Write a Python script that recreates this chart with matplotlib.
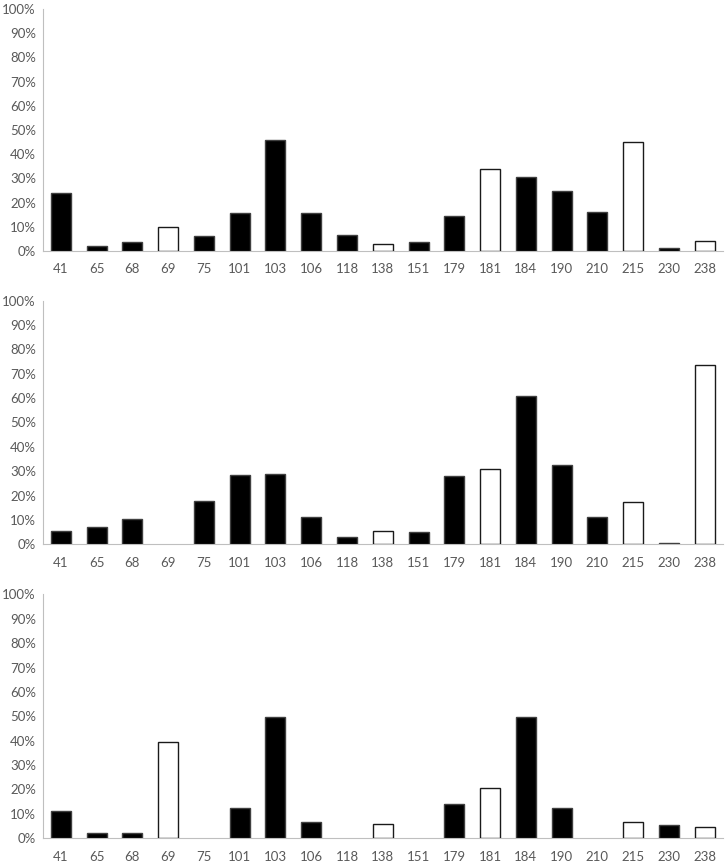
"""
Allele frequency bar panels (three populations), Excel-style look.
"""

import matplotlib.pyplot as plt
import numpy as np
from matplotlib.ticker import PercentFormatter

plt.rcParams.update(
    {
        "font.family": ["Lato", "DejaVu Sans"],
        "font.size": 9.5,
    }
)

# ── Data ───────────────────────────────────────────────────────────────────

categories = ["41", "65", "68", "69", "75", "101", "103", "106", "118", "138",
              "151", "179", "181", "184", "190", "210", "215", "230", "238"]

# categories drawn as open (white) bars
open_cats = ["69", "138", "181", "215", "238"]

panel_top = [23.9, 1.9, 3.6, 10.0, 6.0, 15.7, 45.8, 15.7, 6.6, 2.9,
             3.9, 14.6, 33.7, 30.4, 24.6, 16.2, 45.1, 1.2, 4.0]
panel_mid = [5.3, 7.3, 10.5, 0.0, 17.9, 28.3, 28.9, 11.1, 2.9, 5.5,
             5.2, 28.0, 31.1, 60.9, 32.7, 11.1, 17.2, 0.5, 73.6]
panel_bot = [11.2, 1.9, 2.2, 39.5, 0.0, 12.2, 49.6, 6.7, 0.0, 5.6,
             0.0, 13.8, 20.4, 49.6, 12.2, 0.0, 6.4, 5.2, 4.5]

# ── Plot ───────────────────────────────────────────────────────────────────

GRID_GRAY = "#bfbfbf"
TEXT_GRAY = "#595959"

fig = plt.figure(figsize=(7.27, 8.64), dpi=100)

rects = [
    [0.059, 0.7095, 0.935, 0.280],
    [0.059, 0.370, 0.935, 0.282],
    [0.059, 0.030, 0.935, 0.282],
]

x = np.arange(len(categories))
is_open = [c in open_cats for c in categories]

for rect, values in zip(rects, [panel_top, panel_mid, panel_bot]):
    ax = fig.add_axes(rect)
    # skip empty bars so no stray edge line sits on the baseline
    for xi, v, o in zip(x, values, is_open):
        if v <= 0:
            continue
        ax.bar(xi, v, width=0.56,
               color="white" if o else "black",
               edgecolor="#1a1a1a" if o else "#404040",
               linewidth=1.0, zorder=3)

    ax.set_xlim(-0.5, len(categories) - 0.5)
    ax.set_ylim(0, 100)
    ax.set_yticks(np.arange(0, 101, 10))
    ax.yaxis.set_major_formatter(PercentFormatter(decimals=0))
    ax.set_xticks(x)
    ax.set_xticklabels(categories)

    for side in ["top", "right"]:
        ax.spines[side].set_visible(False)
    for side in ["left", "bottom"]:
        ax.spines[side].set_color(GRID_GRAY)
        ax.spines[side].set_linewidth(0.8)

    ax.tick_params(axis="both", length=0, colors=TEXT_GRAY, labelsize=9.5)
    ax.tick_params(axis="x", pad=9)
    ax.tick_params(axis="y", pad=5)

fig.savefig("out.png", dpi=100)
plt.close(fig)
